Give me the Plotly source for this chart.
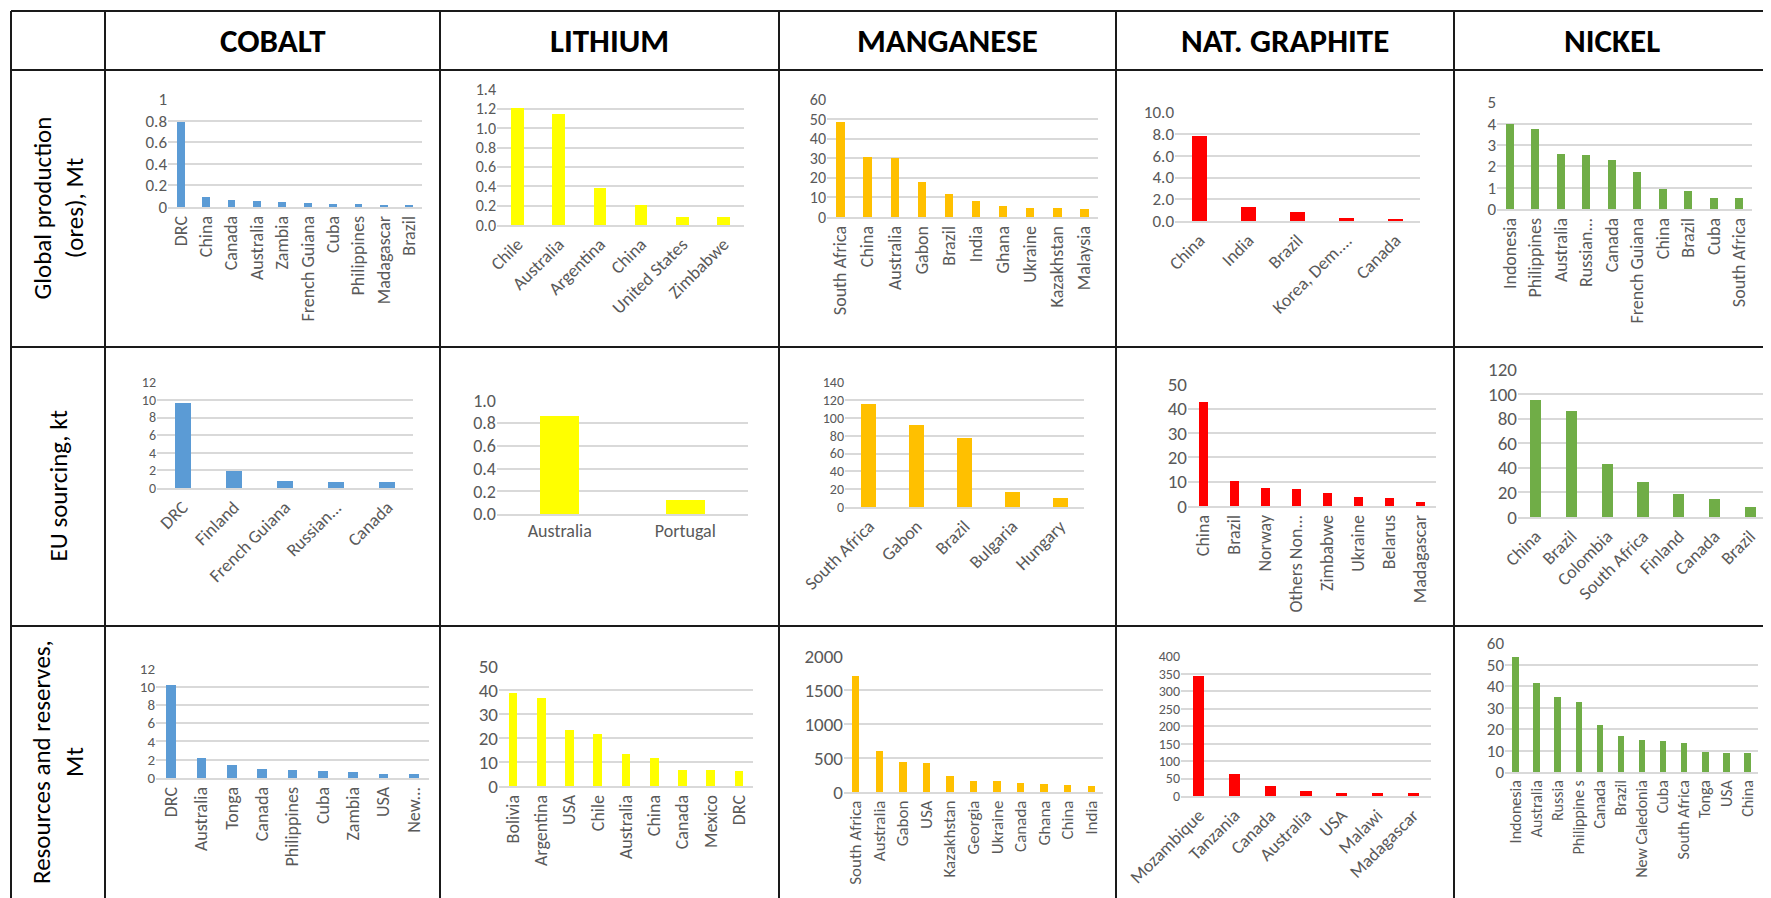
import plotly.graph_objects as go

W, H = 1771, 898

# ---------------- DATA ----------------
minerals = ["COBALT", "LITHIUM", "MANGANESE", "NAT. GRAPHITE", "NICKEL"]
row_titles = ["Global production<br>(ores), Mt", "EU sourcing, kt", "Resources and reserves,<br>Mt"]
mineral_colors = ["#5B9BD5", "#FFFF00", "#FFC000", "#FF0000", "#70AD47"]

# Global production (ores), Mt
co_prod_labels = ["DRC", "China", "Canada", "Australia", "Zambia", "French Guiana", "Cuba",
                  "Philippines", "Madagascar", "Brazil"]
co_prod_values = [0.79, 0.09, 0.065, 0.058, 0.05, 0.041, 0.032, 0.032, 0.023, 0.023]
li_prod_labels = ["Chile", "Australia", "Argentina", "China", "United States", "Zimbabwe"]
li_prod_values = [1.21, 1.15, 0.385, 0.205, 0.086, 0.079]
mn_prod_labels = ["South Africa", "China", "Australia", "Gabon", "Brazil", "India", "Ghana",
                  "Ukraine", "Kazakhstan", "Malaysia"]
mn_prod_values = [48.6, 30.5, 30.0, 18.1, 11.7, 8.1, 5.8, 4.7, 4.7, 3.9]
gr_prod_labels = ["China", "India", "Brazil", "Korea, Dem....", "Canada"]
gr_prod_values = [7.82, 1.29, 0.83, 0.31, 0.21]
ni_prod_labels = ["Indonesia", "Philippines", "Australia", "Russian...", "Canada", "French Guiana",
                  "China", "Brazil", "Cuba", "South Africa"]
ni_prod_values = [3.99, 3.77, 2.59, 2.54, 2.29, 1.74, 0.95, 0.86, 0.53, 0.53]

# EU sourcing, kt
co_eu_labels = ["DRC", "Finland", "French Guiana", "Russian...", "Canada"]
co_eu_values = [9.66, 1.97, 0.76, 0.64, 0.64]
li_eu_labels = ["Australia", "Portugal"]
li_eu_values = [0.865, 0.123]
mn_eu_labels = ["South Africa", "Gabon", "Brazil", "Bulgaria", "Hungary"]
mn_eu_values = [115.6, 92.0, 78.0, 17.3, 10.5]
gr_eu_labels = ["China", "Brazil", "Norway", "Others Non...", "Zimbabwe", "Ukraine", "Belarus",
                "Madagascar"]
gr_eu_values = [42.6, 10.4, 7.5, 7.1, 5.4, 3.8, 3.4, 1.5]
ni_eu_labels = ["China", "Brazil", "Colombia", "South Africa", "Finland", "Canada", "Brazil"]
ni_eu_values = [95.4, 85.9, 43.4, 28.7, 18.4, 14.9, 8.4]

# Resources and reserves, Mt
co_res_labels = ["DRC", "Australia", "Tonga", "Canada", "Philippines", "Cuba", "Zambia", "USA",
                 "New..."]
co_res_values = [10.18, 2.23, 1.39, 1.03, 0.92, 0.81, 0.70, 0.40, 0.40]
li_res_labels = ["Bolivia", "Argentina", "USA", "Chile", "Australia", "China", "Canada",
                 "Mexico", "DRC"]
li_res_values = [38.7, 36.9, 23.4, 21.8, 13.5, 11.7, 6.8, 6.8, 6.4]
mn_res_labels = ["South Africa", "Australia", "Gabon", "USA", "Kazakhstan", "Georgia",
                 "Ukraine", "Canada", "Ghana", "China", "India"]
mn_res_values = [1717, 600, 444, 429, 234, 166, 166, 137, 117, 102, 88]
gr_res_labels = ["Mozambique", "Tanzania", "Canada", "Australia", "USA", "Malawi", "Madagascar"]
gr_res_values = [345, 63.7, 27.6, 14.3, 9.5, 9.5, 9.5]
ni_res_labels = ["Indonesia", "Australia", "Russia", "Philippine s", "Canada", "Brazil",
                 "New Caledonia", "Cuba", "South Africa", "Tonga", "USA", "China"]
ni_res_values = [53.6, 41.4, 35.2, 32.7, 21.7, 16.7, 15.0, 14.6, 13.4, 9.5, 8.7, 8.7]

# axis scales per panel: (max, step, tick format)
axis_scales = [
    [(1, 0.2, ""), (1.4, 0.2, ".1f"), (60, 10, ""), (10, 2, ".1f"), (5, 1, "")],
    [(12, 2, ""), (1.0, 0.2, ".1f"), (140, 20, ""), (50, 10, ""), (120, 20, "")],
    [(12, 2, ""), (50, 10, ""), (2000, 500, ""), (400, 50, ""), (60, 10, "")],
]

panel_data = [
    [(co_prod_labels, co_prod_values), (li_prod_labels, li_prod_values),
     (mn_prod_labels, mn_prod_values), (gr_prod_labels, gr_prod_values),
     (ni_prod_labels, ni_prod_values)],
    [(co_eu_labels, co_eu_values), (li_eu_labels, li_eu_values),
     (mn_eu_labels, mn_eu_values), (gr_eu_labels, gr_eu_values),
     (ni_eu_labels, ni_eu_values)],
    [(co_res_labels, co_res_values), (li_res_labels, li_res_values),
     (mn_res_labels, mn_res_values), (gr_res_labels, gr_res_values),
     (ni_res_labels, ni_res_values)],
]

# ---------------- LAYOUT (pixel geometry, screen coordinates) ----------------
# plot-area boxes: (x_left, x_right, y_top(max gridline), y_zero)
boxes = [
    [(168, 422, 99, 207), (497, 744, 89, 225), (827, 1098, 99, 217), (1175, 1420, 112, 221), (1497, 1752, 102, 209)],
    [(157, 413, 382, 488), (497, 748, 400, 514), (845, 1084, 382, 507), (1188, 1436, 384, 506), (1518, 1768, 369, 517)],
    [(156, 429, 668, 778), (499, 753, 666, 786), (844, 1103, 656, 792), (1181, 1431, 656, 796), (1505, 1758, 643, 772)],
]
label_angles = [
    [-90, -45, -90, -45, -90],
    [-45, 0, -45, -90, -45],
    [-90, -90, -90, -45, -90],
]
xtick_sizes = [
    [18, 18, 18, 18, 18],
    [18, 18, 18, 18, 18],
    [18, 18, 17, 18, 16],
]

col_edges = [11, 105, 440, 779, 1116, 1454, 1790]
row_edges = [11, 70, 347, 626, 910]

# the page body has an 8px default margin: shift drawing so screen coords match
OFFSET = 8

FONT = "Calibri, Carlito, Lato, 'Open Sans', sans-serif"
TICK_COLOR = "#595959"
GRID_COLOR = "#D9D9D9"


def px(x):
    return (x - OFFSET) / W


def py(y):
    return 1 - (y - OFFSET) / H


fig = go.Figure()
layout = dict(
    width=W, height=H, template="none",
    margin=dict(l=0, r=0, t=0, b=0),
    paper_bgcolor="white", plot_bgcolor="white",
    showlegend=False,
    font=dict(family=FONT, color=TICK_COLOR, size=18),
    bargap=0,
)

k = 0
for r in range(3):
    for c in range(5):
        k += 1
        labels, values = panel_data[r][c]
        ymax, step, fmt = axis_scales[r][c]
        xl, xr, yt, yz = boxes[r][c]
        xa = "x" if k == 1 else f"x{k}"
        ya = "y" if k == 1 else f"y{k}"
        idx = list(range(len(labels)))
        # y tick font sized to the spacing between gridlines
        spacing = (yz - yt) / (ymax / step)
        ysize = max(13, min(19, round(spacing * 0.8)))
        fig.add_trace(go.Bar(
            x=idx, y=values, xaxis=xa, yaxis=ya,
            width=0.31, marker=dict(color=mineral_colors[c], line=dict(width=0)),
            hoverinfo="x+y",
        ))
        xkey = "xaxis" if k == 1 else f"xaxis{k}"
        ykey = "yaxis" if k == 1 else f"yaxis{k}"
        layout[xkey] = dict(
            domain=[px(xl), min(px(xr), 1.0)], anchor=ya,
            range=[-0.5, len(labels) - 0.5],
            tickmode="array", tickvals=idx, ticktext=labels,
            tickangle=label_angles[r][c],
            showgrid=False, zeroline=False,
            showline=True, linecolor=GRID_COLOR, linewidth=1.5,
            ticks="", automargin=False,
            tickfont=dict(family=FONT, size=xtick_sizes[r][c], color=TICK_COLOR),
        )
        layout[ykey] = dict(
            domain=[py(yz), py(yt)], anchor=xa,
            range=[0, ymax * 1.003],
            tick0=0, dtick=step, tickformat=fmt,
            showgrid=True, gridcolor=GRID_COLOR, gridwidth=1.5,
            zeroline=False, showline=False, ticks="",
            automargin=False,
            tickfont=dict(family=FONT, size=ysize, color=TICK_COLOR),
        )

fig.update_layout(**layout)

# table grid lines
shapes = []
for x in col_edges:
    shapes.append(dict(type="line", xref="paper", yref="paper",
                       x0=px(x), x1=px(x), y0=py(row_edges[0]), y1=py(row_edges[-1]),
                       line=dict(color="#1a1a1a", width=2)))
for y in row_edges:
    shapes.append(dict(type="line", xref="paper", yref="paper",
                       x0=px(col_edges[0]), x1=px(col_edges[-1]), y0=py(y), y1=py(y),
                       line=dict(color="#1a1a1a", width=2)))
fig.update_layout(shapes=shapes)

annotations = []
for c, name in enumerate(minerals):
    annotations.append(dict(
        text=f"<b>{name}</b>", xref="paper", yref="paper",
        x=px((col_edges[c + 1] + col_edges[c + 2]) / 2) if c < 4 else px((col_edges[5] + 1769) / 2),
        y=py((row_edges[0] + row_edges[1]) / 2),
        showarrow=False, xanchor="center", yanchor="middle",
        font=dict(family=FONT, size=33, color="black"),
    ))
for r, title in enumerate(row_titles):
    yc = (row_edges[r + 1] + row_edges[r + 2]) / 2 if r < 2 else 762
    annotations.append(dict(
        text=title, xref="paper", yref="paper",
        x=px((col_edges[0] + col_edges[1]) / 2), y=py(yc),
        showarrow=False, xanchor="center", yanchor="middle", textangle=-90,
        font=dict(family=FONT, size=25, color="black"),
    ))
fig.update_layout(annotations=annotations)

fig.write_html("out.html")
